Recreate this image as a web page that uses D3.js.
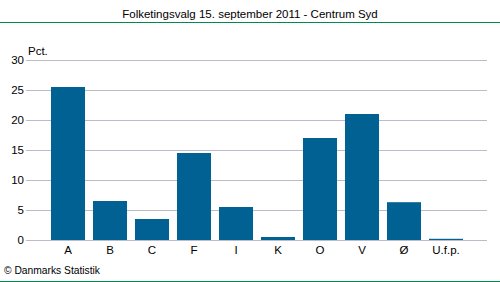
<!DOCTYPE html>
<html>
<head>
<meta charset="utf-8">
<script src="https://cdn.jsdelivr.net/npm/d3@7"></script>
<style>
  body { margin: 0; background: #fff; }
  svg { display: block; font-family: "Liberation Sans", Arial, sans-serif; }
</style>
</head>
<body>
<div id="chart"></div>
<script>
// data
var parties = ["A", "B", "C", "F", "I", "K", "O", "V", "Ø", "U.f.p."]
var pct = [25.5, 6.5, 3.5, 14.5, 5.5, 0.5, 17.0, 21.0, 6.3, 0.2]
var yTicks = [0, 5, 10, 15, 20, 25, 30]

var W = 500, H = 282

var svg = d3.select("#chart").append("svg")
    .attr("width", W)
    .attr("height", H)

// title + green rules
svg.append("text")
    .attr("x", 250)
    .attr("y", 18)
    .attr("text-anchor", "middle")
    .style("font-size", "11.5px")
    .attr("fill", "#000")
    .text("Folketingsvalg 15. september 2011 - Centrum Syd")

svg.append("line")
    .attr("x1", 0).attr("x2", W)
    .attr("y1", 22.5).attr("y2", 22.5)
    .attr("stroke", "#008a4e")
    .attr("stroke-width", 1)

svg.append("line")
    .attr("x1", 0).attr("x2", W)
    .attr("y1", 281.5).attr("y2", 281.5)
    .attr("stroke", "#008a4e")
    .attr("stroke-width", 1)

// scales
var scaleX = d3.scaleBand()
    .domain(parties)
    .range([47, 467])
    .paddingInner(0.19)
    .paddingOuter(0.095)

var scaleY = d3.scaleLinear()
    .domain([0, 30])
    .range([240, 60])

// gridlines
svg.append("g")
    .selectAll("line")
    .data(yTicks)
    .enter()
    .append("line")
    .attr("x1", 26)
    .attr("x2", 487)
    .attr("y1", d => Math.round(scaleY(d)) + 0.5)
    .attr("y2", d => Math.round(scaleY(d)) + 0.5)
    .attr("stroke", "#bcbcc8")
    .attr("stroke-width", 1)

// y axis labels
var yAxis = svg.append("g")
    .attr("transform", "translate(24,0)")
    .call(d3.axisLeft(scaleY).tickValues(yTicks).tickSize(0).tickPadding(0))
yAxis.select(".domain").remove()
yAxis.selectAll("text")
    .style("font-size", "11.5px")
    .style("font-family", "'Liberation Sans', Arial, sans-serif")
    .attr("fill", "#000")

svg.append("text")
    .attr("x", 28)
    .attr("y", 55)
    .style("font-size", "11.5px")
    .text("Pct.")

// bars
svg.selectAll("rect.bar")
    .data(parties)
    .enter()
    .append("rect")
    .attr("class", "bar")
    .attr("x", d => scaleX(d))
    .attr("width", scaleX.bandwidth())
    .attr("y", (d, i) => scaleY(pct[i]))
    .attr("height", (d, i) => scaleY(0) - scaleY(pct[i]))
    .style("fill", "#006192")

// x axis labels
var xAxis = svg.append("g")
    .attr("transform", "translate(0,246)")
    .call(d3.axisBottom(scaleX).tickSize(0).tickPadding(0))
xAxis.select(".domain").remove()
xAxis.selectAll("text")
    .style("font-size", "11.5px")
    .style("font-family", "'Liberation Sans', Arial, sans-serif")
    .attr("fill", "#000")

// footer
svg.append("text")
    .attr("x", 4)
    .attr("y", 274)
    .style("font-size", "11px")
    .attr("textLength", 96)
    .attr("lengthAdjust", "spacingAndGlyphs")
    .text("© Danmarks Statistik")
</script>
</body>
</html>
